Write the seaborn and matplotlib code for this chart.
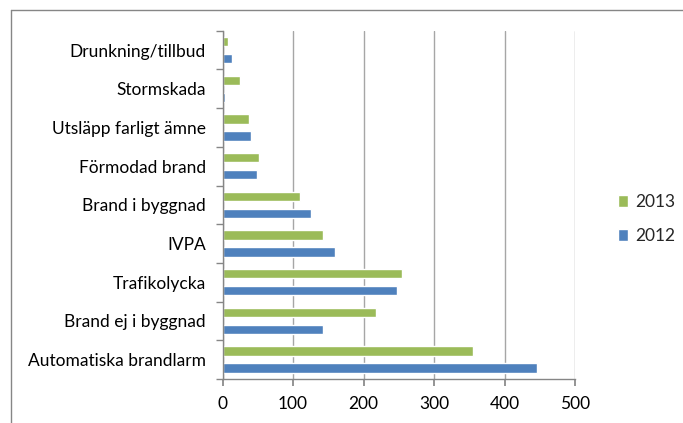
import matplotlib
matplotlib.use("Agg")
import matplotlib.pyplot as plt
import pandas as pd
import seaborn as sns
from matplotlib.lines import Line2D
from matplotlib.ticker import FixedLocator

categories = [
    "Drunkning/tillbud",
    "Stormskada",
    "Utsläpp farligt ämne",
    "Förmodad brand",
    "Brand i byggnad",
    "IVPA",
    "Trafikolycka",
    "Brand ej i byggnad",
    "Automatiska brandlarm",
]
values_2013 = [7, 25, 38, 52, 110, 143, 255, 217, 355]
values_2012 = [14, 3, 41, 49, 126, 159, 247, 143, 446]
years = ["2013", "2012"]
x_ticks = [0, 100, 200, 300, 400, 500]

df = pd.DataFrame({
    "category": categories * 2,
    "year": ["2013"] * len(categories) + ["2012"] * len(categories),
    "value": values_2013 + values_2012,
})

sns.set_theme(style="white")
plt.rcParams["font.family"] = ["Lato", "DejaVu Sans"]

W, H = 683, 423
fig, ax = plt.subplots(figsize=(W / 100, H / 100), dpi=100)
fig.subplots_adjust(left=222.6 / W, right=575 / W, top=1 - 30.7 / H, bottom=1 - 379 / H)

palette = {"2013": "#9BBB59", "2012": "#4F81BD"}
sns.barplot(
    data=df, y="category", x="value", hue="year", hue_order=years,
    order=categories, palette=palette, orient="h", width=0.88, gap=0.45,
    saturation=1, ax=ax, legend=True,
)

ax.set_xlim(0, 500)
ax.set_ylim(len(categories) - 0.5, -0.5)
ax.set_xticks(x_ticks)
ax.xaxis.grid(True, color="#A6A6A6", linewidth=1)
ax.set_axisbelow(True)
ax.set_xlabel("")
ax.set_ylabel("")

for side in ["top", "right"]:
    ax.spines[side].set_visible(False)
for side in ["left", "bottom"]:
    ax.spines[side].set_color("#868686")
    ax.spines[side].set_linewidth(1)

ax.tick_params(axis="x", length=5, color="#868686", direction="out",
               labelsize=12.5, pad=7, labelcolor="black", bottom=True)
ax.tick_params(axis="y", which="major", length=0, labelsize=12.5, pad=12, labelcolor="black")
ax.yaxis.set_minor_locator(FixedLocator([i - 0.5 for i in range(len(categories) + 1)]))
ax.tick_params(axis="y", which="minor", length=5, color="#868686", direction="out", left=True)

handles, labels = ax.get_legend_handles_labels()
ax.legend(
    handles, labels, loc="center left", bbox_to_anchor=(618 / W, 1 - 219 / H),
    bbox_transform=fig.transFigure, frameon=False, handlelength=0.6,
    handleheight=0.7, handletextpad=0.4, labelspacing=1.0, fontsize=12.5,
    borderpad=0, borderaxespad=0,
)

# outer chart frame
fig.add_artist(Line2D([11 / W, 1], [1 - 10 / H, 1 - 10 / H], color="#868686", linewidth=1))
fig.add_artist(Line2D([11 / W, 11 / W], [0, 1 - 10 / H], color="#868686", linewidth=1))

fig.savefig("out.png", dpi=100, facecolor="white")
